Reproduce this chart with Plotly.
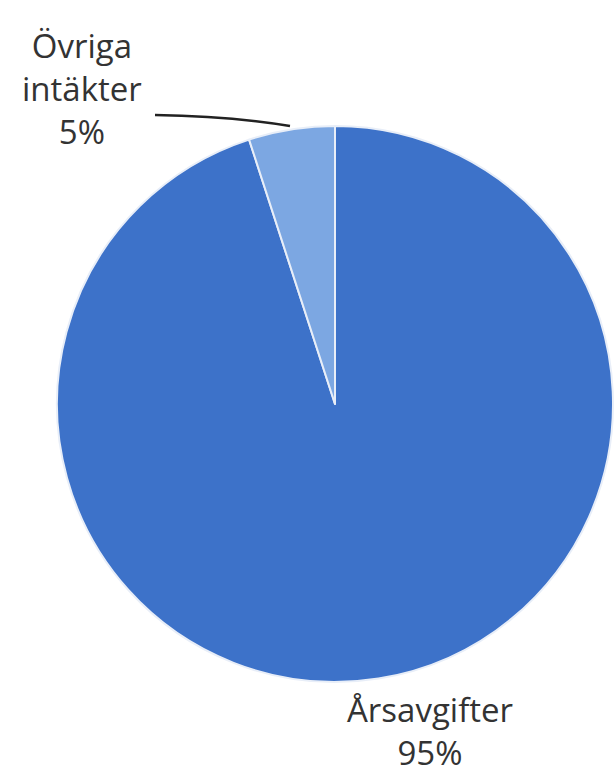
import plotly.graph_objects as go

labels = ["Årsavgifter", "Övriga intäkter"]
values = [95, 5]
colors = ["#3d72c9", "#7ca7e2"]

W, H = 614, 777

fig = go.Figure(go.Pie(
    labels=labels,
    values=values,
    sort=False,
    direction="clockwise",
    rotation=0,
    marker=dict(colors=colors, line=dict(color="#e8eef8", width=2)),
    textinfo="none",
    hoverinfo="label+percent",
    showlegend=False,
    domain=dict(x=[57 / W, 613 / W], y=[1 - 683 / H, 1 - 125 / H]),
))

font = dict(family="Open Sans, Noto Sans, sans-serif", size=33, color="#333333")

def pct(v):
    return f"{round(100 * v / sum(values))}%"

fig.add_annotation(
    x=82 / W, y=1 - 88 / H, xref="paper", yref="paper",
    text="Övriga<br>intäkter<br>" + pct(values[1]),
    showarrow=False, font=font, align="center",
    xanchor="center", yanchor="middle",
)
fig.add_annotation(
    x=430 / W, y=1 - 731 / H, xref="paper", yref="paper",
    text="Årsavgifter<br>" + pct(values[0]),
    showarrow=False, font=font, align="center",
    xanchor="center", yanchor="middle",
)
fig.add_shape(
    type="path", xref="paper", yref="paper",
    path=f"M {155/W} {1-115/H} Q {230/W} {1-116/H} {290/W} {1-126/H}",
    line=dict(color="#222222", width=2.5),
)

fig.update_layout(
    width=W, height=H,
    margin=dict(l=0, r=0, t=0, b=0),
    paper_bgcolor="white",
    plot_bgcolor="white",
)

fig.write_html("out.html")
